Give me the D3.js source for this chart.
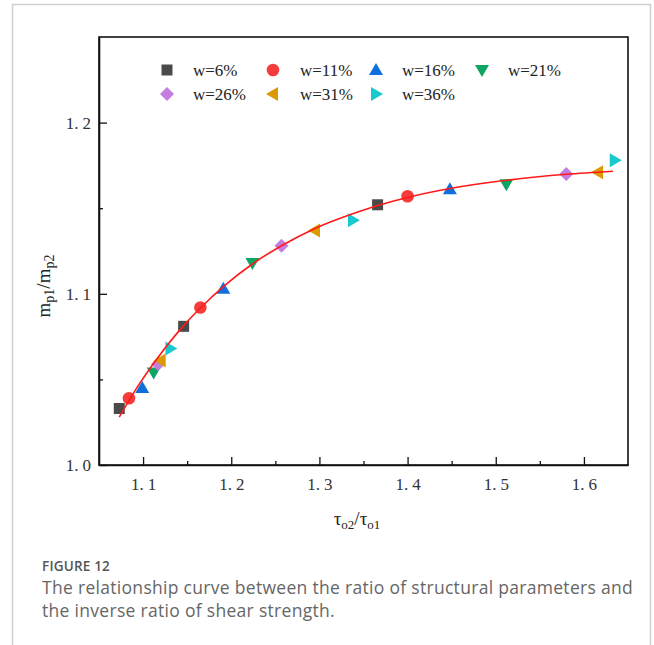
<!DOCTYPE html>
<html>
<head>
<meta charset="utf-8">
<script src="https://cdn.jsdelivr.net/npm/d3@7/dist/d3.min.js"></script>
<style>
  body { margin: 0; background: #fff; }
  svg { display: block; }
</style>
</head>
<body>
<svg id="chart" width="654" height="645"></svg>
<script>
// ---------------- DATA ----------------
const seriesNames = ["w=6%", "w=11%", "w=16%", "w=21%", "w=26%", "w=31%", "w=36%"];
const xW6  = [1.073, 1.146, 1.366];
const yW6  = [1.033, 1.081, 1.152];
const xW11 = [1.084, 1.165, 1.400];
const yW11 = [1.039, 1.092, 1.157];
const xW16 = [1.099, 1.191, 1.448];
const yW16 = [1.045, 1.103, 1.161];
const xW21 = [1.112, 1.224, 1.512];
const yW21 = [1.054, 1.118, 1.164];
const xW26 = [1.117, 1.257, 1.580];
const yW26 = [1.059, 1.128, 1.170];
const xW31 = [1.120, 1.295, 1.616];
const yW31 = [1.061, 1.137, 1.171];
const xW36 = [1.131, 1.338, 1.635];
const yW36 = [1.068, 1.143, 1.178];

// fitted curve
const fitX = [1.073, 1.085, 1.096, 1.115, 1.146, 1.165, 1.191, 1.224, 1.257, 1.295, 1.338, 1.366, 1.400, 1.448, 1.512, 1.580, 1.633];
const fitY = [1.028, 1.0385, 1.0475, 1.0615, 1.0814, 1.0917, 1.1042, 1.1174, 1.1281, 1.1382, 1.1468, 1.1516, 1.1563, 1.1615, 1.1663, 1.1698, 1.1716];

const xTicks = [1.1, 1.2, 1.3, 1.4, 1.5, 1.6];
const xMinorTicks = [1.15, 1.25, 1.35, 1.45, 1.55];
const yTicks = [1.0, 1.1, 1.2];
const yMinorTicks = [1.05, 1.15];

// ---------------- STYLE ----------------
const seriesX = [xW6, xW11, xW16, xW21, xW26, xW31, xW36];
const seriesY = [yW6, yW11, yW16, yW21, yW26, yW31, yW36];
const colors = ["#4a4a4a", "#f43c3c", "#0f6fdc", "#0ea462", "#c57ee0", "#dd9a00", "#18c9cf"];
const shapes = ["square", "circle", "up", "down", "diamond", "left", "right"];

const svg = d3.select("#chart");
const W = 654, H = 645;
const M = { left: 99, top: 37, right: 628, bottom: 465 };

// outer frame
svg.append("path")
  .attr("d", `M12.5,${H} V4.5 H650.5 V${H}`)
  .attr("fill", "none").attr("stroke", "#cfcfcf").attr("stroke-width", 1.5);

const x = d3.scaleLinear().domain([1.05, 1.65]).range([M.left, M.right]);
const y = d3.scaleLinear().domain([1.0, 1.25]).range([M.bottom, M.top]);

const serif = "'Liberation Serif', 'DejaVu Serif', serif";

// box
svg.append("rect")
  .attr("x", M.left).attr("y", M.top)
  .attr("width", M.right - M.left).attr("height", M.bottom - M.top)
  .attr("fill", "none").attr("stroke", "#111").attr("stroke-width", 1.6);

// split "1.1" into "1." + "1" with a gap, like the reference's typesetting
function spacedLabel(sel) {
  sel.each(function(d) {
    const s = d3.format(".1f")(d);
    const t = d3.select(this).text("");
    t.append("tspan").text(s.slice(0, 2));
    t.append("tspan").attr("dx", 4).text(s.slice(2));
  });
}

// x axis
const xAxis = d3.axisBottom(x).tickValues(xTicks).tickSizeInner(-8).tickSizeOuter(0)
  .tickFormat(d => d3.format(".1f")(d));
const gx = svg.append("g").attr("transform", `translate(0,${M.bottom})`).call(xAxis);
gx.attr("font-family", serif);
gx.select(".domain").attr("stroke", "#111").attr("stroke-width", 1.6);
gx.selectAll(".tick line").attr("stroke", "#111").attr("stroke-width", 1.3);
gx.selectAll(".tick text").attr("y", 13).attr("dy", "0.71em").attr("dx", 0)
  .attr("font-family", serif).attr("font-size", 17).attr("fill", "#333")
  .call(spacedLabel);
const gxm = svg.append("g").attr("transform", `translate(0,${M.bottom})`)
  .call(d3.axisBottom(x).tickValues(xMinorTicks).tickSizeInner(-4).tickSizeOuter(0).tickFormat(""));
gxm.select(".domain").remove();
gxm.selectAll(".tick line").attr("stroke", "#111").attr("stroke-width", 1.3);

// y axis
const yAxis = d3.axisLeft(y).tickValues(yTicks).tickSizeInner(-8).tickSizeOuter(0)
  .tickFormat(d => d3.format(".1f")(d));
const gy = svg.append("g").attr("transform", `translate(${M.left},0)`).call(yAxis);
gy.attr("font-family", serif);
gy.select(".domain").attr("stroke", "#111").attr("stroke-width", 1.6);
gy.selectAll(".tick line").attr("stroke", "#111").attr("stroke-width", 1.3);
gy.selectAll(".tick text").attr("x", -8)
  .attr("font-family", serif).attr("font-size", 17).attr("fill", "#333")
  .call(spacedLabel);
const gym = svg.append("g").attr("transform", `translate(${M.left},0)`)
  .call(d3.axisLeft(y).tickValues(yMinorTicks).tickSizeInner(-4).tickSizeOuter(0).tickFormat(""));
gym.select(".domain").remove();
gym.selectAll(".tick line").attr("stroke", "#111").attr("stroke-width", 1.3);

// axis titles
const xt = svg.append("text").attr("x", 357).attr("y", 525).attr("text-anchor", "middle")
  .attr("font-family", serif).attr("font-size", 19).attr("fill", "#222");
xt.append("tspan").text("τ");
xt.append("tspan").attr("font-size", 13).attr("dy", 4).text("o2");
xt.append("tspan").attr("dy", -4).text("/τ");
xt.append("tspan").attr("font-size", 13).attr("dy", 4).text("o1");

const yt = svg.append("text").attr("transform", "translate(50,286) rotate(-90)").attr("text-anchor", "middle")
  .attr("font-family", serif).attr("font-size", 19).attr("fill", "#222");
yt.append("tspan").text("m");
yt.append("tspan").attr("font-size", 14).attr("dy", 4).text("p1");
yt.append("tspan").attr("dy", -4).text("/m");
yt.append("tspan").attr("font-size", 14).attr("dy", 4).text("p2");

// symbol drawer
function marker(g, shape, color, cx, cy) {
  let d;
  if (shape === "square") {
    g.append("rect").attr("x", cx - 5.5).attr("y", cy - 5.5).attr("width", 11).attr("height", 11).attr("fill", color);
    return;
  }
  if (shape === "circle") {
    g.append("circle").attr("cx", cx).attr("cy", cy).attr("r", 6.3).attr("fill", color);
    return;
  }
  if (shape === "up") d = `M${cx},${cy - 7} L${cx + 7},${cy + 5} L${cx - 7},${cy + 5} Z`;
  if (shape === "down") d = `M${cx},${cy + 7} L${cx + 7},${cy - 5} L${cx - 7},${cy - 5} Z`;
  if (shape === "left") d = `M${cx - 7},${cy} L${cx + 5},${cy - 7} L${cx + 5},${cy + 7} Z`;
  if (shape === "right") d = `M${cx + 7},${cy} L${cx - 5},${cy - 7} L${cx - 5},${cy + 7} Z`;
  if (shape === "diamond") d = `M${cx},${cy - 7} L${cx + 7},${cy} L${cx},${cy + 7} L${cx - 7},${cy} Z`;
  g.append("path").attr("d", d).attr("fill", color);
}

// points
const gp = svg.append("g");
seriesNames.forEach((name, i) => {
  seriesX[i].forEach((xv, j) => {
    marker(gp, shapes[i], colors[i], x(xv), y(seriesY[i][j]));
  });
});

// fit curve
const fitPts = fitX.map((v, i) => [v, fitY[i]]);
svg.append("path")
  .datum(fitPts)
  .attr("d", d3.line().x(d => x(d[0])).y(d => y(d[1])).curve(d3.curveMonotoneX))
  .attr("fill", "none").attr("stroke", "#ff1a1a").attr("stroke-width", 1.6);

// legend
const legMarkX = [167, 273, 376, 482];
const legTextX = [193, 300, 402, 508];
const legRowY = [70, 94];
const gl = svg.append("g");
seriesNames.forEach((name, i) => {
  const col = i % 4, row = Math.floor(i / 4);
  marker(gl, shapes[i], colors[i], legMarkX[col], legRowY[row]);
  gl.append("text").attr("x", legTextX[col]).attr("y", legRowY[row]).attr("dy", "0.35em")
    .attr("font-family", serif).attr("font-size", 17).attr("fill", "#222").text(name);
});

// caption
const sans = "'Open Sans', 'Noto Sans', sans-serif";
svg.append("text").attr("x", 42).attr("y", 571)
  .attr("font-family", sans).attr("font-size", 13.5).attr("font-weight", 600).attr("fill", "#555")
  .attr("letter-spacing", "0.2px")
  .text("FIGURE 12");
svg.append("text").attr("x", 42).attr("y", 594)
  .attr("font-family", sans).attr("font-size", 17.5).attr("fill", "#666")
  .attr("letter-spacing", "0.3px")
  .text("The relationship curve between the ratio of structural parameters and");
svg.append("text").attr("x", 42).attr("y", 617)
  .attr("font-family", sans).attr("font-size", 17.5).attr("fill", "#666")
  .attr("letter-spacing", "0.3px")
  .text("the inverse ratio of shear strength.");
</script>
</body>
</html>
